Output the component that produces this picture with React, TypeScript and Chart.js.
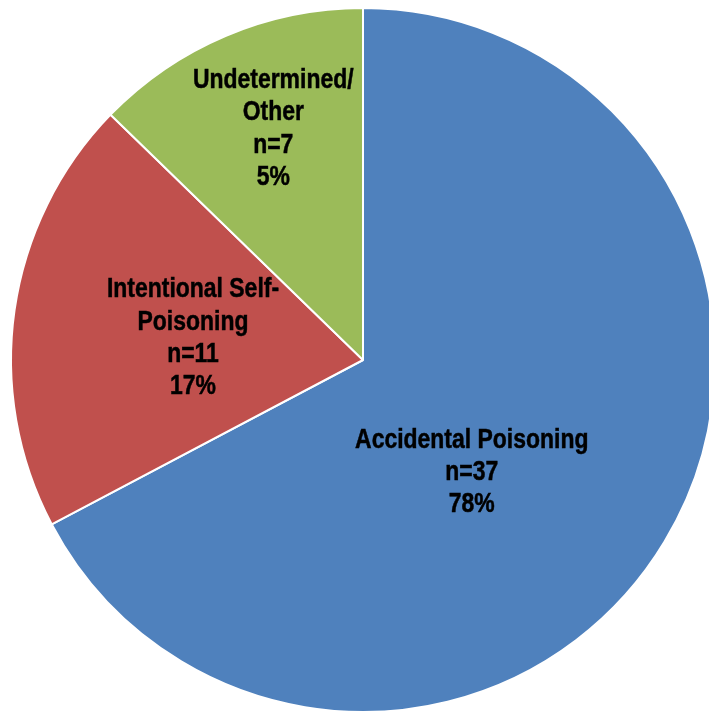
import React, { useEffect, useRef } from "react";
import { Chart, registerables } from "chart.js";

Chart.register(...registerables);

const categories = ["Accidental Poisoning", "Intentional Self-Poisoning", "Undetermined/Other"];
const counts = [37, 11, 7];
const percentLabels = ["78%", "17%", "5%"];
const labelLines = [["Accidental Poisoning"], ["Intentional Self-", "Poisoning"], ["Undetermined/", "Other"]];
const colors = ["#4F81BD", "#C0504D", "#9BBB59"];

// label placement as fraction of radius relative to pie centre
const labelOffsets = [
  [0.309, 0.32],
  [-0.483, -0.062],
  [-0.255, -0.656],
];

const labelPlugin = {
  id: "sliceLabels",
  afterDatasetsDraw(chart: any) {
    const ctx = chart.ctx as CanvasRenderingContext2D;
    const meta = chart.getDatasetMeta(0);
    const size = 27;
    ctx.save();
    ctx.font = `bold ${size}px monospace`;
    const w1 = ctx.measureText("Accidental Poisoning").width;
    ctx.font = `bold ${size}px "Liberation Sans Narrow", monospace`;
    const w2 = ctx.measureText("Accidental Poisoning").width;
    const hasNarrow = Math.abs(w1 - w2) > 0.5;
    const font = hasNarrow
      ? `bold ${size}px "Liberation Sans Narrow", "Arial Narrow", sans-serif`
      : `bold ${size}px "Liberation Sans", Arial, sans-serif`;
    const sx = hasNarrow ? 1.045 : 0.85;
    ctx.font = font;
    ctx.fillStyle = "#000000";
    ctx.strokeStyle = "#000000";
    ctx.lineWidth = 0.5;
    ctx.textAlign = "center";
    ctx.textBaseline = "middle";
    meta.data.forEach((arc: any, i: number) => {
      const p = arc.getProps(["x", "y", "outerRadius"], true);
      const cx = p.x + labelOffsets[i][0] * p.outerRadius;
      const cy = p.y + labelOffsets[i][1] * p.outerRadius;
      const lines = [...labelLines[i], "n=" + counts[i], percentLabels[i]];
      const lh = 32.2;
      const top = cy - ((lines.length - 1) * lh) / 2;
      lines.forEach((t, k) => {
        ctx.save();
        ctx.translate(cx, top + k * lh);
        ctx.scale(sx, 1);
        ctx.fillText(t, 0, 0);
        ctx.strokeText(t, 0, 0);
        ctx.restore();
      });
    });
    ctx.restore();
  },
};

export default function App() {
  const ref = useRef<HTMLCanvasElement | null>(null);
  useEffect(() => {
    if (!ref.current) return;
    const chart = new Chart(ref.current, {
      type: "pie",
      data: {
        labels: categories,
        datasets: [
          {
            data: counts,
            backgroundColor: colors,
            borderColor: "#FFFFFF",
            borderWidth: 2,
          },
        ],
      },
      options: {
        responsive: false,
        animation: false,
        layout: { padding: { left: 10, right: 10, top: 7, bottom: 1 } },
        plugins: {
          legend: { display: false },
          tooltip: { enabled: false },
        },
      },
      plugins: [labelPlugin],
    });
    return () => chart.destroy();
  }, []);
  return (
    <div
      style={{
        position: "fixed",
        left: 0,
        top: 0,
        width: 709,
        height: 714,
        overflow: "hidden",
        background: "#FFFFFF",
      }}
    >
      <canvas ref={ref} width={726} height={714} style={{ display: "block" }} />
    </div>
  );
}
